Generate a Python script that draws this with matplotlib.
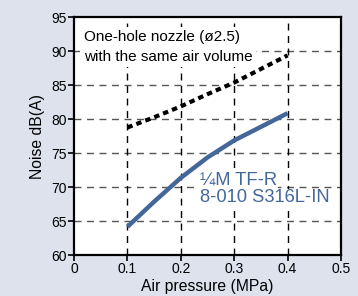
import matplotlib
matplotlib.use("Agg")
import matplotlib.pyplot as plt

plt.rcParams['font.family'] = ['Liberation Sans', 'DejaVu Sans']

pressure = [0.1, 0.15, 0.2, 0.25, 0.3, 0.35, 0.4]
noise_nozzle = [64.2, 67.9, 71.4, 74.4, 76.9, 78.9, 80.9]
noise_onehole = [78.8, 80.3, 81.9, 83.7, 85.4, 87.4, 89.4]
xticks = [0, 0.1, 0.2, 0.3, 0.4, 0.5]
xticklabels = ['0', '0.1', '0.2', '0.3', '0.4', '0.5']
yticks = [60, 65, 70, 75, 80, 85, 90, 95]

bg = '#dde2ed'
blue = '#44679a'

fig = plt.figure(figsize=(3.58, 2.96), dpi=100, facecolor=bg)
ax = fig.add_axes([0.2067, 0.137, 0.7458, 0.8047])
ax.set_facecolor('white')
ax.set_xlim(0, 0.5)
ax.set_ylim(60, 95)

for y in [65, 70, 75, 80, 85, 90]:
    ax.axhline(y, color='#555555', lw=1.0, ls=(0, (5, 4)), zorder=1)
for x in [0.1, 0.2, 0.3, 0.4]:
    ax.axvline(x, color='black', lw=1.0, ls=(0, (5, 4)), zorder=1)

ax.plot(pressure, noise_onehole, color='black', lw=3, ls=(0, (1.3, 1)), zorder=3)
ax.plot(pressure, noise_nozzle, color=blue, lw=3.2, zorder=3, solid_capstyle='butt',
        solid_joinstyle='round')

ax.text(0.018, 93.1, 'One-hole nozzle (ø2.5)\nwith the same air volume', fontsize=11,
        va='top', ha='left', linespacing=1.5,
        bbox=dict(facecolor='white', edgecolor='none', pad=2.5), zorder=2)
ax.text(0.236, 70.4, '¼M TF-R', fontsize=13.2, color=blue,
        va='baseline', ha='left',
        bbox=dict(facecolor='white', edgecolor='none', pad=0.5), zorder=2)
ax.text(0.236, 67.8, '8-010 S316L-IN', fontsize=13.2, color=blue,
        va='baseline', ha='left',
        bbox=dict(facecolor='white', edgecolor='none', pad=0.5), zorder=2)

ax.set_xticks(xticks)
ax.set_xticklabels(xticklabels)
ax.set_yticks(yticks)
ax.tick_params(direction='out', length=4, width=1.2, labelsize=10, colors='black', pad=1)
for s in ax.spines.values():
    s.set_linewidth(1.6)
ax.set_xlabel('Air pressure (MPa)', fontsize=11.3, labelpad=2)
ax.set_ylabel('Noise dB(A)', fontsize=11.3, labelpad=5)

fig.savefig('out.png', dpi=100, facecolor=bg)
